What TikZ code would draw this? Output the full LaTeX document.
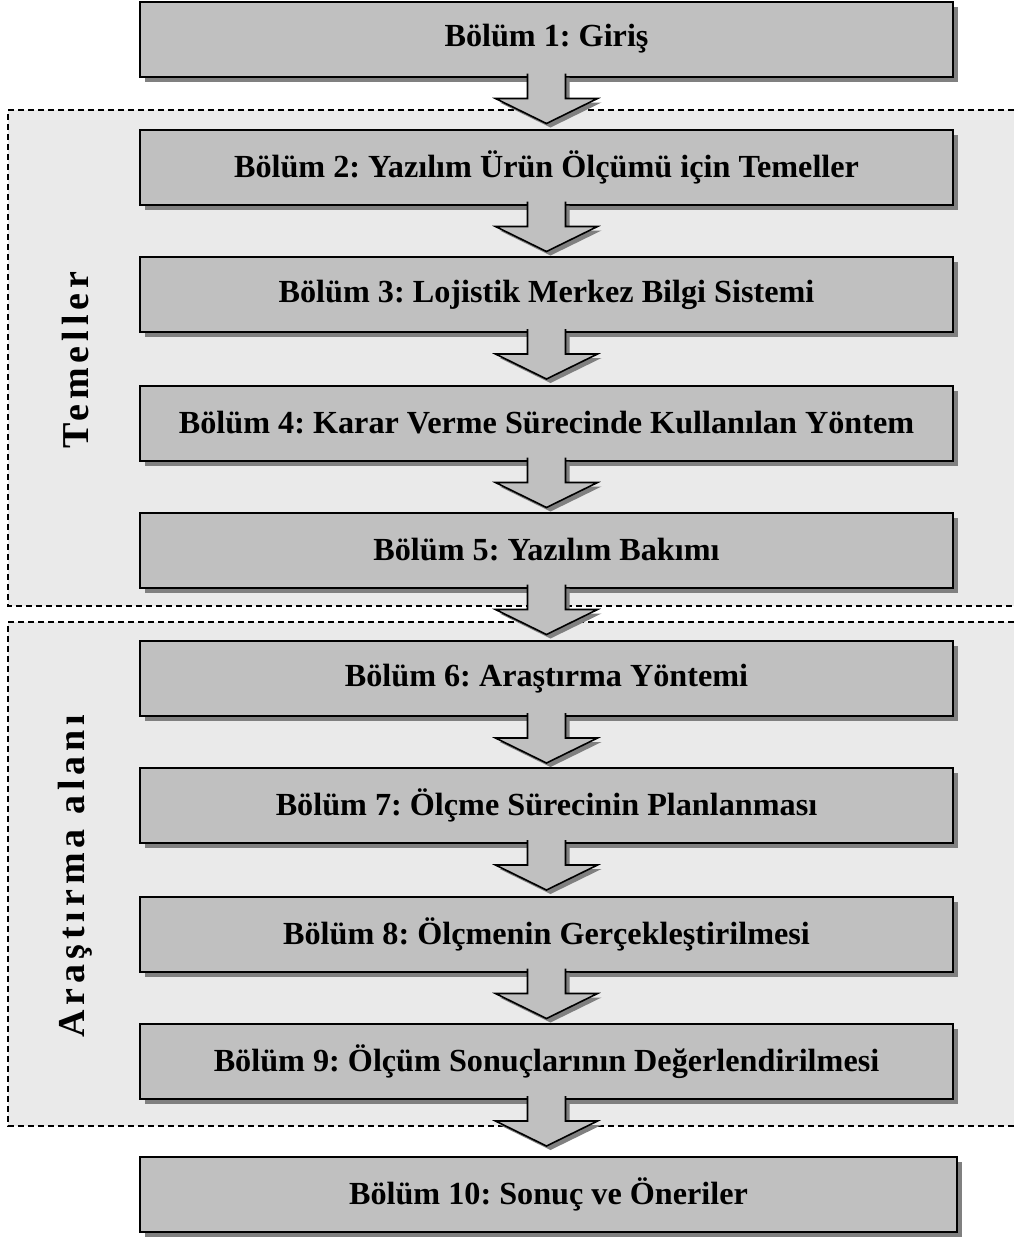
\documentclass[tikz,border=0pt]{standalone}
\usepackage{fontspec}
\setmainfont{Liberation Serif}
\usetikzlibrary{shadows,calc}
\frenchspacing

\definecolor{boxgray}{HTML}{C0C0C0}
\definecolor{shadegray}{HTML}{808080}
\definecolor{zonegray}{HTML}{EAEAEA}

% block arrow hanging below a chapter box
\newcommand{\flowarrow}[1]{%
  \begin{scope}[shift={(#1.south)}]
    \fill[arrowbody] (-19,-4) -- (-19,21) -- (-51,21) -- (0,46) -- (51,21) -- (19,21) -- (19,-4) -- cycle;
    \draw[arrowedge] (-19,-4) -- (-19,21) -- (-51,21) -- (0,46) -- (51,21) -- (19,21) -- (19,-4);
  \end{scope}}

\begin{document}
\begin{tikzpicture}[x=0.5pt,y=-0.5pt,
  chapter/.style={draw=black, line width=1pt, fill=boxgray,
    minimum width=406.5pt, minimum height=37.5pt, inner sep=0pt,
    font=\fontsize{16.1}{19}\selectfont\bfseries,
    drop shadow={shadow xshift=2.5pt, shadow yshift=-2.5pt, fill=shadegray, opacity=1}},
  arrowbody/.style={fill=boxgray,
    drop shadow={shadow xshift=2pt, shadow yshift=-2pt, fill=shadegray, opacity=1}},
  arrowedge/.style={draw=black, line width=0.8pt, line join=miter},
  zone/.style={fill=zonegray},
  zoneline/.style={dash pattern=on 3pt off 2pt, line width=0.75pt},
  zonelabel/.style={rotate=90, inner sep=0pt,
    font=\fontsize{19}{22}\selectfont\bfseries\addfontfeature{LetterSpace=13}},
]
\useasboundingbox (0,0) rectangle (1014,1238);

% shaded, dashed zones
\fill[zone] (8,110) rectangle (1014,606);
\draw[zoneline] (1014,110) -- (8,110) -- (8,606) -- (1014,606);
\fill[zone] (8,622) rectangle (1014,1126);
\draw[zoneline] (1014,622) -- (8,622) -- (8,1126) -- (1014,1126);

\node[zonelabel] (temel) at (75,360) {Temeller};
\node[zonelabel] (alan) at (75,876) {Araştırma alanı};

% chapter boxes
\node[chapter] (b1) at (546.5,39)     {Bölüm 1: Giriş};
\node[chapter] (b2) at (546.5,167)    {Bölüm 2: Yazılım Ürün Ölçümü için Temeller};
\node[chapter] (b3) at (546.5,294.5)  {Bölüm 3: Lojistik Merkez Bilgi Sistemi};
\node[chapter] (b4) at (546.5,423)    {Bölüm 4: Karar Verme Sürecinde Kullanılan Yöntem};
\node[chapter] (b5) at (546.5,550)    {Bölüm 5: Yazılım Bakımı};
\node[chapter] (b6) at (546.5,678.5)  {Bölüm 6: Araştırma Yöntemi};
\node[chapter] (b7) at (546.5,805.5)  {Bölüm 7: Ölçme Sürecinin Planlanması};
\node[chapter] (b8) at (546.5,934)    {Bölüm 8: Ölçmenin Gerçekleştirilmesi};
\node[chapter] (b9) at (546.5,1061.5) {Bölüm 9: Ölçüm Sonuçlarının Değerlendirilmesi};
\node[chapter, minimum width=408.5pt] (b10) at (548.5,1194.5) {Bölüm 10: Sonuç ve Öneriler};

% arrows between consecutive chapters
\foreach \i in {1,...,9} {\flowarrow{b\i}}
\end{tikzpicture}
\end{document}
